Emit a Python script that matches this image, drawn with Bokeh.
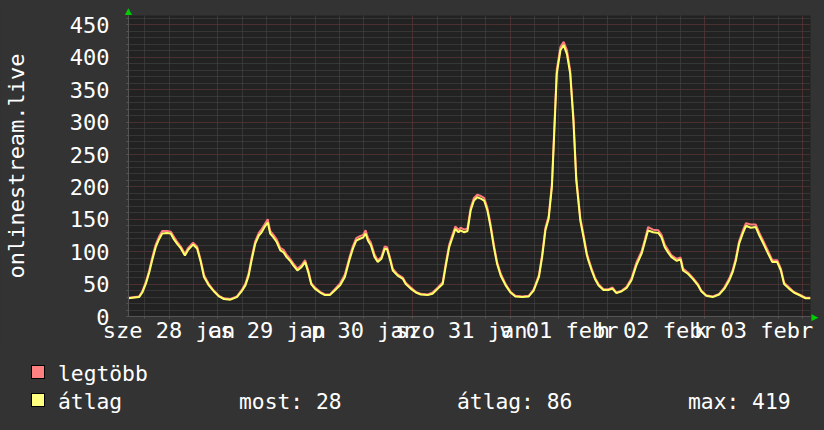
from bokeh.plotting import figure
from bokeh.layouts import column
from bokeh.models import (Range1d, FixedTicker, LinearAxis, ColumnDataSource, Div)
from bokeh.embed import file_html
from bokeh.resources import INLINE

# ---------------- data (hours since 28 Jan 00:00) ----------------
hours = [2.0, 4.6, 5.4, 6.3, 7.1, 7.8, 8.7, 9.5, 10.3, 11.5,
         12.4, 13.2, 14.0, 14.9, 15.9, 16.7, 17.9, 18.9, 19.8, 20.6,
         21.8, 23.0, 24.3, 25.5, 27.1, 28.7, 30.0, 30.8, 31.6, 32.3,
         33.2, 34.1, 34.8, 35.7, 36.3, 36.9, 37.7, 38.5, 39.4, 40.2,
         40.9, 41.8, 42.6, 43.6, 44.6, 45.5, 46.3, 47.0, 47.9, 49.2,
         50.4, 51.6, 52.8, 54.1, 55.3, 56.5, 57.3, 58.1, 59.0, 59.8,
         60.4, 61.0, 61.7, 62.6, 63.4, 64.3, 65.1, 65.7, 66.5, 67.1,
         68.3, 69.6, 70.3, 71.5, 72.8, 74.0, 75.7, 76.9, 78.2, 79.4,
         80.1, 81.0, 81.8, 82.5, 83.3, 83.8, 84.7, 85.5, 86.3, 87.1,
         87.9, 88.8, 89.6, 90.4, 91.2, 92.0, 92.8, 93.7, 94.9, 96.1,
         97.3, 99.0, 100.6, 101.8, 103.1, 103.9, 104.7, 105.5, 106.3, 106.9,
         107.5, 108.4, 109.2, 110.0, 110.8, 111.6, 112.3, 113.3, 114.1, 114.9,
         115.3, 116.1, 116.9, 117.8, 119.0, 120.2, 121.2, 122.2, 123.5, 124.7,
         125.9, 127.1, 128.4, 129.2, 130.0, 131.2, 132.5, 133.3, 134.1, 134.9,
         135.7, 137.0, 138.0, 138.6, 139.8, 141.0, 142.3, 143.1, 144.3, 145.9,
         147.5, 148.8, 150.0, 150.8, 151.6, 152.4, 153.3, 154.1, 155.3, 156.5,
         157.4, 158.2, 159.4, 160.6, 161.8, 162.7, 163.5, 164.7, 165.9, 167.6,
         168.8, 170.0]

atlag = [28, 30, 37, 51, 68, 86, 107, 119, 128, 129,
         128, 119, 112, 105, 94, 103, 111, 105, 84, 61,
         48, 39, 31, 27, 26, 30, 40, 48, 63, 86,
         112, 125, 130, 140, 145, 128, 122, 115, 102, 99,
         92, 86, 79, 71, 76, 84, 68, 50, 43, 37,
         33, 33, 40, 48, 61, 89, 105, 117, 120, 122,
         128, 117, 110, 92, 84, 89, 104, 104, 86, 71,
         63, 58, 50, 43, 37, 34, 33, 35, 43, 50,
         76, 107, 122, 135, 130, 133, 130, 132, 164, 179,
         184, 182, 179, 164, 138, 107, 81, 63, 48, 37,
         31, 30, 31, 40, 61, 92, 133, 151, 200, 287,
         375, 411, 419, 405, 375, 302, 210, 148, 122, 95,
         86, 71, 58, 48, 41, 41, 43, 36, 39, 44,
         56, 79, 97, 115, 133, 130, 129, 122, 107, 99,
         92, 86, 88, 71, 66, 58, 48, 39, 32, 30,
         34, 43, 56, 68, 86, 112, 128, 140, 137, 138,
         125, 115, 99, 84, 84, 71, 50, 43, 37, 32,
         28, 28]

legtobb = [29, 31, 39, 54, 71, 90, 111, 123, 132, 132,
           131, 123, 115, 108, 97, 106, 114, 108, 87, 64,
           50, 40, 32, 28, 27, 31, 42, 51, 67, 90,
           116, 129, 135, 144, 150, 132, 126, 119, 106, 103,
           96, 89, 82, 74, 79, 87, 71, 52, 45, 38,
           34, 34, 42, 51, 65, 93, 109, 121, 124, 126,
           133, 121, 114, 96, 87, 92, 108, 107, 89, 74,
           65, 60, 52, 45, 38, 35, 34, 37, 45, 53,
           80, 111, 126, 139, 134, 137, 134, 136, 168, 183,
           188, 186, 183, 168, 142, 111, 84, 66, 50, 38,
           32, 31, 32, 42, 64, 96, 137, 155, 205, 293,
           381, 416, 424, 411, 380, 308, 215, 152, 126, 98,
           89, 74, 60, 50, 42, 42, 45, 37, 40, 46,
           59, 83, 101, 119, 138, 134, 133, 126, 111, 103,
           95, 89, 91, 74, 68, 60, 50, 40, 33, 31,
           35, 45, 59, 71, 90, 116, 132, 144, 142, 142,
           129, 119, 103, 87, 87, 74, 52, 45, 38, 33,
           29, 29]

day_ticks = [12, 36, 60, 84, 108, 132, 156]
day_labels = ["sze 28 jan", "cs 29 jan", "p 30 jan", "szo 31 jan",
              "v 01 febr", "h 02 febr", "k 03 febr"]
y_ticks = [0, 50, 100, 150, 200, 250, 300, 350, 400, 450]
series_names = ["legtöbb", "átlag"]
stats = ["most: 28", "átlag: 86", "max: 419"]
y_title = "onlinestream.live"

# ---------------- style / layout ----------------
BACK = "#333333"
CANVAS = "#222222"
GRID = "#4a4a4a"
MGRID = "#5e2a2a"
AXIS = "#555555"
FONT = "#ffffff"
ARROW = "#00cc00"
MONO = "DejaVu Sans Mono"
C_MAX = "#ff7a7a"
C_AVG = "#ffff66"
SW_MAX = "#ff8080"
SW_AVG = "#ffff80"

X_START, X_END = 2.0, 170.0
Y_TOP = 464.6
W = 824
H_MAIN = 348
H_LEG = 82

p = figure(width=W, height=H_MAIN, output_backend="svg", toolbar_location=None,
           x_range=Range1d(X_START, X_END), y_range=Range1d(0, Y_TOP),
           min_border_left=124, min_border_right=14, min_border_top=15,
           min_border_bottom=32,
           background_fill_color=CANVAS, border_fill_color=BACK,
           outline_line_color=None)

# grids
xgrid_ticker = FixedTicker(ticks=list(range(24, 170, 24)),
                           minor_ticks=list(range(6, 170, 6)))
ygrid_ticker = FixedTicker(ticks=y_ticks, minor_ticks=list(range(0, 470, 10)))
p.xgrid.ticker = xgrid_ticker
p.ygrid.ticker = ygrid_ticker
for g in (p.xgrid, p.ygrid):
    g.grid_line_color = MGRID
    g.grid_line_dash = "1 1"
    g.grid_line_width = 1
    g.minor_grid_line_color = GRID
    g.minor_grid_line_dash = "1 1"
    g.minor_grid_line_width = 1

# x axis
p.xaxis.ticker = FixedTicker(ticks=day_ticks, minor_ticks=list(range(6, 170, 6)))
p.xaxis.major_label_overrides = {t: l for t, l in zip(day_ticks, day_labels)}
p.xaxis.major_tick_out = 0
p.xaxis.major_tick_in = 0
p.xaxis.major_tick_line_color = None
p.xaxis.minor_tick_out = 2
p.xaxis.minor_tick_in = 0
p.xaxis.minor_tick_line_color = AXIS
p.xaxis.axis_line_color = AXIS
p.xaxis.major_label_standoff = -1

# y axis
p.yaxis.ticker = FixedTicker(ticks=y_ticks, minor_ticks=list(range(0, 470, 10)))
p.yaxis.major_tick_out = 2
p.yaxis.major_tick_in = 0
p.yaxis.minor_tick_out = 2
p.yaxis.minor_tick_in = 0
p.yaxis.major_tick_line_color = AXIS
p.yaxis.minor_tick_line_color = AXIS
p.yaxis.axis_line_color = AXIS
p.yaxis.major_label_standoff = 17
p.yaxis.axis_label = y_title
p.yaxis.axis_label_text_font = MONO
p.yaxis.axis_label_text_font_size = "22px"
p.yaxis.axis_label_text_font_style = "normal"
p.yaxis.axis_label_text_color = FONT
p.yaxis.axis_label_text_baseline = "bottom"
p.yaxis.axis_label_standoff = 38

for ax in (p.xaxis, p.yaxis):
    ax.major_label_text_font = MONO
    ax.major_label_text_font_size = "22px"
    ax.major_label_text_color = FONT

# little green arrow heads at the axis ends
top_arrow = LinearAxis(ticker=FixedTicker(ticks=[2.0]),
                       major_label_overrides={2.0: "\u25b2"})
right_arrow = LinearAxis(ticker=FixedTicker(ticks=[0]),
                         major_label_overrides={0: "\u25b6"})
for ax in (top_arrow, right_arrow):
    ax.axis_line_color = None
    ax.major_tick_line_color = None
    ax.minor_tick_line_color = None
    ax.major_tick_out = 0
    ax.major_tick_in = 0
    ax.major_label_standoff = 0
    ax.major_label_text_color = ARROW
    ax.major_label_text_font = "DejaVu Sans"
    ax.major_label_text_font_size = "9px"
right_arrow.major_label_standoff = 1
p.add_layout(top_arrow, "above")
p.add_layout(right_arrow, "right")

# series
src = ColumnDataSource(dict(h=hours, mx=legtobb, avg=atlag))
p.line("h", "mx", source=src, line_color=C_MAX, line_width=2)
p.line("h", "avg", source=src, line_color=C_AVG, line_width=2)

# ---------------- legend strip (HTML) ----------------
def swatch(left, top, color):
    return ('<span style="position:absolute;left:%spx;top:%spx;width:14px;'
            'height:14px;background:%s;border:1px solid #000;"></span>'
            % (left, top, color))


def txt(left, top, s):
    return ('<span style="position:absolute;left:%spx;top:%spx;'
            'line-height:1;white-space:pre;">%s</span>' % (left, top, s))


html = ('<div style="position:relative;width:%dpx;height:%dpx;background:%s;'
        'font-family:\'%s\';font-size:21.3px;color:%s;overflow:hidden;">'
        % (W, H_LEG, BACK, MONO, FONT))
html += swatch(31, 17, SW_MAX) + swatch(31, 45, SW_AVG)
html += txt(58, 15, series_names[0]) + txt(58, 43.3, series_names[1])
for s, x in zip(stats, [239, 457, 688]):
    html += txt(x, 43.3, s)
html += '</div>'

legend_div = Div(text=html, width=W, height=H_LEG,
                 styles={"background-color": BACK, "margin": "0", "padding": "0"})

layout = column(p, legend_div, spacing=0, styles={"background-color": BACK})
open("out.html", "w").write(file_html(layout, INLINE))
